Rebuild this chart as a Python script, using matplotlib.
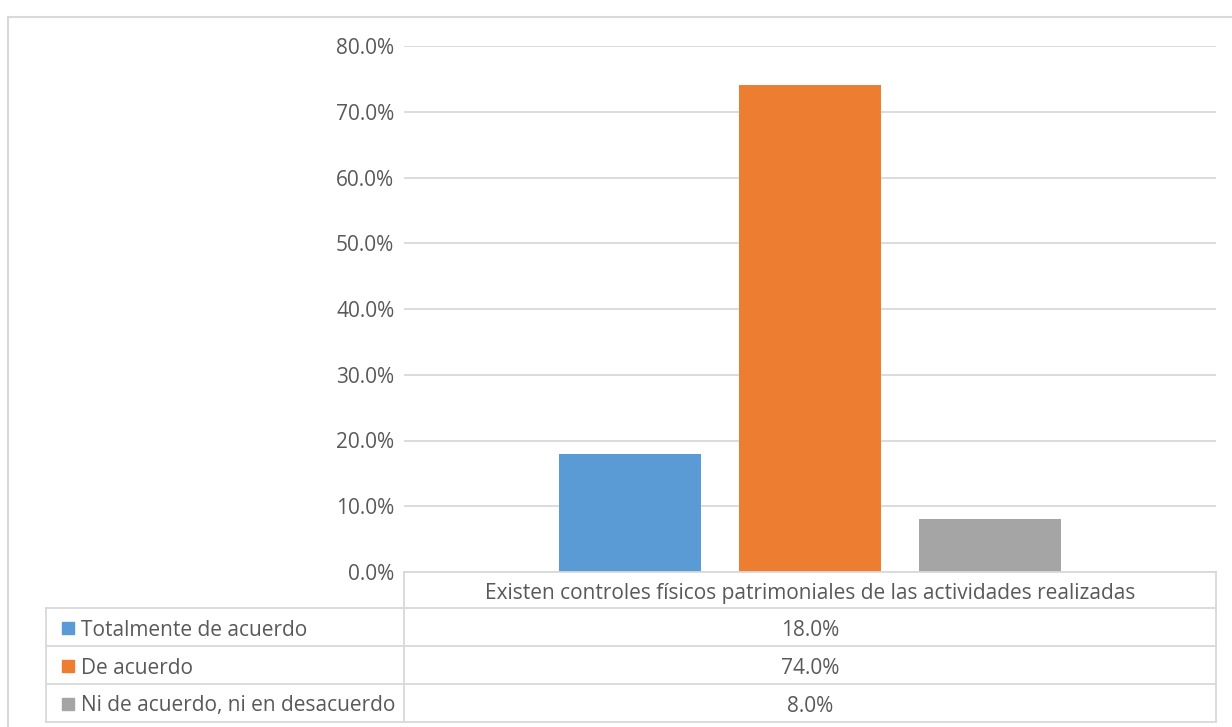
import numpy as np
import matplotlib.pyplot as plt
from matplotlib.lines import Line2D
from matplotlib.patches import Rectangle

category = 'Existen controles físicos patrimoniales de las actividades realizadas'
series = ['Totalmente de acuerdo', 'De acuerdo', 'Ni de acuerdo, ni en desacuerdo']
values = [18.0, 74.0, 8.0]
colors = ['#5b9bd5', '#ed7d31', '#a5a5a5']
yticks = [0, 10, 20, 30, 40, 50, 60, 70, 80]

W, H = 1232, 727
plt.rcParams['font.family'] = ['Open Sans', 'DejaVu Sans']
txt = '#595959'
grid = '#d9d9d9'
fs = 15

fig = plt.figure(figsize=(W / 100, H / 100), dpi=100)


def fx(x):
    return x / W


def fy(y):
    return 1 - y / H


def hline(x0, x1, y):
    fig.add_artist(Line2D([fx(x0), fx(x1)], [fy(y), fy(y)], color=grid, lw=1.3))


def vline(x, y0, y1):
    fig.add_artist(Line2D([fx(x), fx(x)], [fy(y0), fy(y1)], color=grid, lw=1.3))


# outer chart border
fig.add_artist(Rectangle((fx(8), fy(740)), fx(1240) - fx(8), fy(17) - fy(740),
                         fill=False, edgecolor=grid, lw=1.5))

left, right, top, bottom = 404, 1216, 46, 572
ax = fig.add_axes([fx(left), fy(bottom), fx(right - left), fy(top) - fy(bottom)])

bw = 142 / 812
gap = 38 / 812
pos = [0.5 + (i - 1) * (bw + gap) for i in range(len(values))]
ax.bar(pos, values, width=bw, color=colors, zorder=3)
ax.set_xlim(0, 1)
ax.set_ylim(0, 80)
ax.set_yticks(yticks)
ax.set_yticklabels(['{:.1f}%'.format(v) for v in yticks], color=txt, fontsize=fs)
ax.tick_params(axis='y', length=0, pad=7)
ax.set_xticks([])
ax.grid(axis='y', color=grid, lw=1.3, zorder=0)
for s in ax.spines.values():
    s.set_visible(False)

# data table
rows = [572, 608, 646, 684, 722]
hline(left, right, rows[0])
for r in rows[1:]:
    hline(46, right, r)
vline(left, rows[0], rows[-1])
vline(right, rows[0], rows[-1])
vline(46, rows[1], rows[-1])
fig.text(fx((left + right) / 2), fy((rows[0] + rows[1]) / 2 + 3), category,
         ha='center', va='center', color=txt, fontsize=fs)
for i, (name, v, c) in enumerate(zip(series, values, colors)):
    yc = (rows[i + 1] + rows[i + 2]) / 2
    fig.add_artist(Rectangle((fx(62), fy(yc + 7)), fx(12), fy(0) - fy(12),
                             color=c, transform=fig.transFigure))
    fig.text(fx(81), fy(yc + 3), name, ha='left', va='center', color=txt, fontsize=fs)
    fig.text(fx((left + right) / 2), fy(yc + 3), '{:.1f}%'.format(v),
             ha='center', va='center', color=txt, fontsize=fs)

fig.savefig('out.png', dpi=100)
